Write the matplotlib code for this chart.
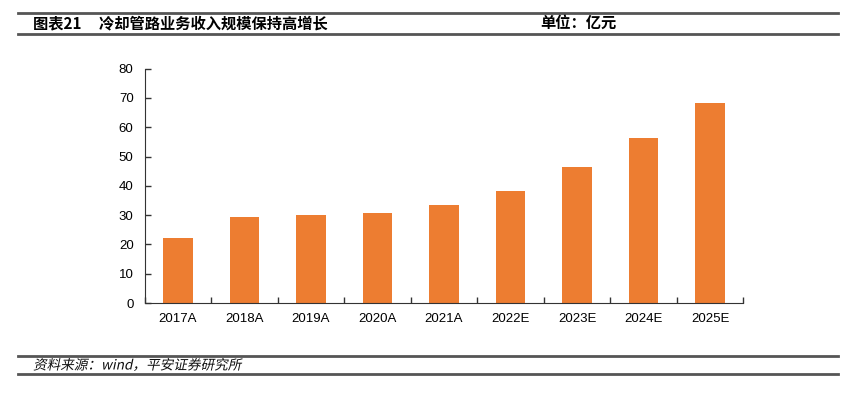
import matplotlib.pyplot as plt
from matplotlib.lines import Line2D
from matplotlib.textpath import TextPath
from matplotlib.patches import PathPatch
from matplotlib.font_manager import FontProperties
from matplotlib.transforms import Affine2D

plt.rcParams['font.family'] = ['Liberation Sans', 'Noto Sans CJK SC', 'DejaVu Sans']

# data
years = ['2017A', '2018A', '2019A', '2020A', '2021A', '2022E', '2023E', '2024E', '2025E']
revenue = [22.2, 29.4, 30.2, 30.6, 33.4, 38.4, 46.6, 56.2, 68.2]

title = '图表21     冷却管路业务收入规模保持高增长'
unit = '单位：亿元'
source = '资料来源：wind，平安证券研究所'

fig = plt.figure(figsize=(8.6, 3.99), dpi=100)
W, H = 860, 399
ax = fig.add_axes([144.7 / W, 1 - 303 / H, (743.3 - 144.7) / W, (303 - 68.7) / H])

x = range(len(years))
ax.bar(x, revenue, width=0.45, color='#ED7D31')
ax.set_xlim(-0.5, len(years) - 0.5)
ax.set_ylim(0, 80)
ax.set_yticks(range(0, 81, 10))
ax.set_xticks([i + 0.5 for i in range(-1, len(years))], minor=False)
ax.set_xticklabels([])
ax.set_xticks(list(x), minor=True)
ax.set_xticklabels(years, minor=True)
ax.tick_params(axis='x', which='major', direction='in', length=4, width=1, color='#333333')
ax.tick_params(axis='x', which='minor', length=0, pad=7, labelsize=9.5)
ax.tick_params(axis='y', direction='in', length=4, width=1, color='#333333', pad=8, labelsize=9.5)
for s in ['top', 'right']:
    ax.spines[s].set_visible(False)
ax.spines['left'].set_color('#333333')
ax.spines['bottom'].set_color('#333333')

# header / footer rules
def hline(y, lw=2):
    fig.add_artist(Line2D([18 / W, 838 / W], [1 - y / H, 1 - y / H], color='#555555', lw=lw,
                          transform=fig.transFigure))

hline(12.5)
hline(33.5)
hline(356)
hline(373.5)

cjk = ['Noto Sans CJK SC', 'DejaVu Sans']
fig.text(33 / W, 1 - 23 / H, title, fontsize=11, fontweight='bold', va='center', family=cjk)
fig.text(540 / W, 1 - 23 / H, unit, fontsize=11, fontweight='bold', va='center', family=cjk)

# italic-looking source line: sheared text path
tp = TextPath((0, 0), source, size=9.8, prop=FontProperties(family='Noto Sans CJK SC'))
trans = (Affine2D().skew_deg(12, 0).scale(1 / 72)
         .translate(33 / 100, (H - 369.5) / 100) + fig.dpi_scale_trans)
fig.add_artist(PathPatch(tp, transform=trans, color='#111111', lw=0))

fig.savefig('out.png', dpi=100)
